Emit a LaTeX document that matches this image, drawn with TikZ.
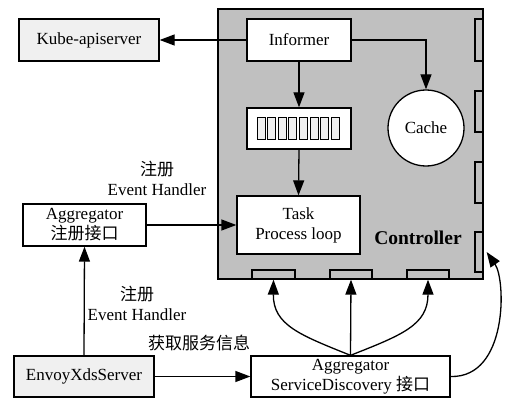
\documentclass[tikz,border=0pt]{standalone}
\usepackage{fontspec}
\setmainfont{Liberation Serif}
\newfontfamily\cjk{Noto Sans CJK SC}
\usetikzlibrary{arrows.meta}
\definecolor{ctlgray}{HTML}{C0C0C0}
\definecolor{boxgray}{HTML}{F0F0F0}
\tikzset{
  box/.style={draw, line width=1.3pt, fill=white, align=center, inner sep=0pt},
  port/.style={draw, line width=1.3pt, fill=ctlgray, inner sep=0pt},
  arr/.style={line width=1.3pt, -{Triangle[length=15pt,width=11pt]}},
}
\begin{document}
\begin{tikzpicture}[x=1pt,y=-1pt,font=\fontsize{17}{20}\selectfont]
\useasboundingbox (0,0) rectangle (517,412);

% controller
\draw[line width=1.3pt, fill=ctlgray] (218,9) rectangle (483,279);
\node[font=\fontsize{19.5}{22}\selectfont\bfseries] (ctl) at (418,238) {Controller};

% ports
\node[port, minimum width=8pt, minimum height=42pt] (r1) at (479,40) {};
\node[port, minimum width=8pt, minimum height=41pt] (r2) at (479,111.5) {};
\node[port, minimum width=8pt, minimum height=41pt] (r3) at (479,182.5) {};
\node[port, minimum width=8pt, minimum height=40pt] (r4) at (479,252) {};
\node[port, minimum width=43pt, minimum height=9pt] (p1) at (273.5,274.5) {};
\node[port, minimum width=42pt, minimum height=9pt] (p2) at (351,274.5) {};
\node[port, minimum width=42pt, minimum height=9pt] (p3) at (428,274.5) {};

% boxes
\node[box, fill=boxgray, minimum width=140pt, minimum height=42pt] (kube) at (89,40) {Kube-apiserver};
\node[box, minimum width=104pt, minimum height=42pt] (informer) at (299,40) {Informer};
\node[box, minimum width=104pt, minimum height=41pt] (queue) at (299,128.5) {};
\foreach \i in {0,...,7} {
  \draw[line width=1pt, fill=boxgray] (257+\i*10.6,117) rectangle +(8,22);
}
\node[box, circle, minimum size=76pt] (cache) at (426,128) {Cache};
\node[box, minimum width=123pt, minimum height=58pt] (task) at (298.5,225) {Task\\Process loop};
\node[box, minimum width=123pt, minimum height=42pt] (agg) at (84.5,225) {Aggregator\\{\cjk 注册接口}};
\node[box, fill=boxgray, minimum width=140pt, minimum height=41pt] (envoy) at (84,376.5) {EnvoyXdsServer};
\node[box, minimum width=199pt, minimum height=41pt] (sd) at (350.5,376.5) {Aggregator\\ServiceDiscovery {\cjk 接口}};

% labels
\node[align=center] (lab1) at (157,178) {{\cjk 注册}\\Event Handler};
\node[align=center] (lab2) at (137,303) {{\cjk 注册}\\Event Handler};
\node (lab3) at (199,343) {\cjk 获取服务信息};

% connectors
\draw[arr] (informer.west) -- (kube.east);
\draw[arr] (informer.east) -| (cache.north);
\draw[arr] (informer.south) -- (queue.north);
\draw[arr] (queue.south) -- (task.north);
\draw[arr] (agg.east) -- (task.west);
\draw[arr] (envoy.north) -- (agg.south);
\draw[arr] (envoy.east) -- (sd.west);
\draw[arr] (sd.north) -- (p2.south);
\draw[arr] (sd.north) .. controls (300,335) and (273,325) .. (p1.south);
\draw[arr] (sd.north) .. controls (402,335) and (428,325) .. (p3.south);
\draw[arr] (sd.east) .. controls (508,378) and (506,280) .. ([xshift=3pt]r4.east);
\end{tikzpicture}
\end{document}
